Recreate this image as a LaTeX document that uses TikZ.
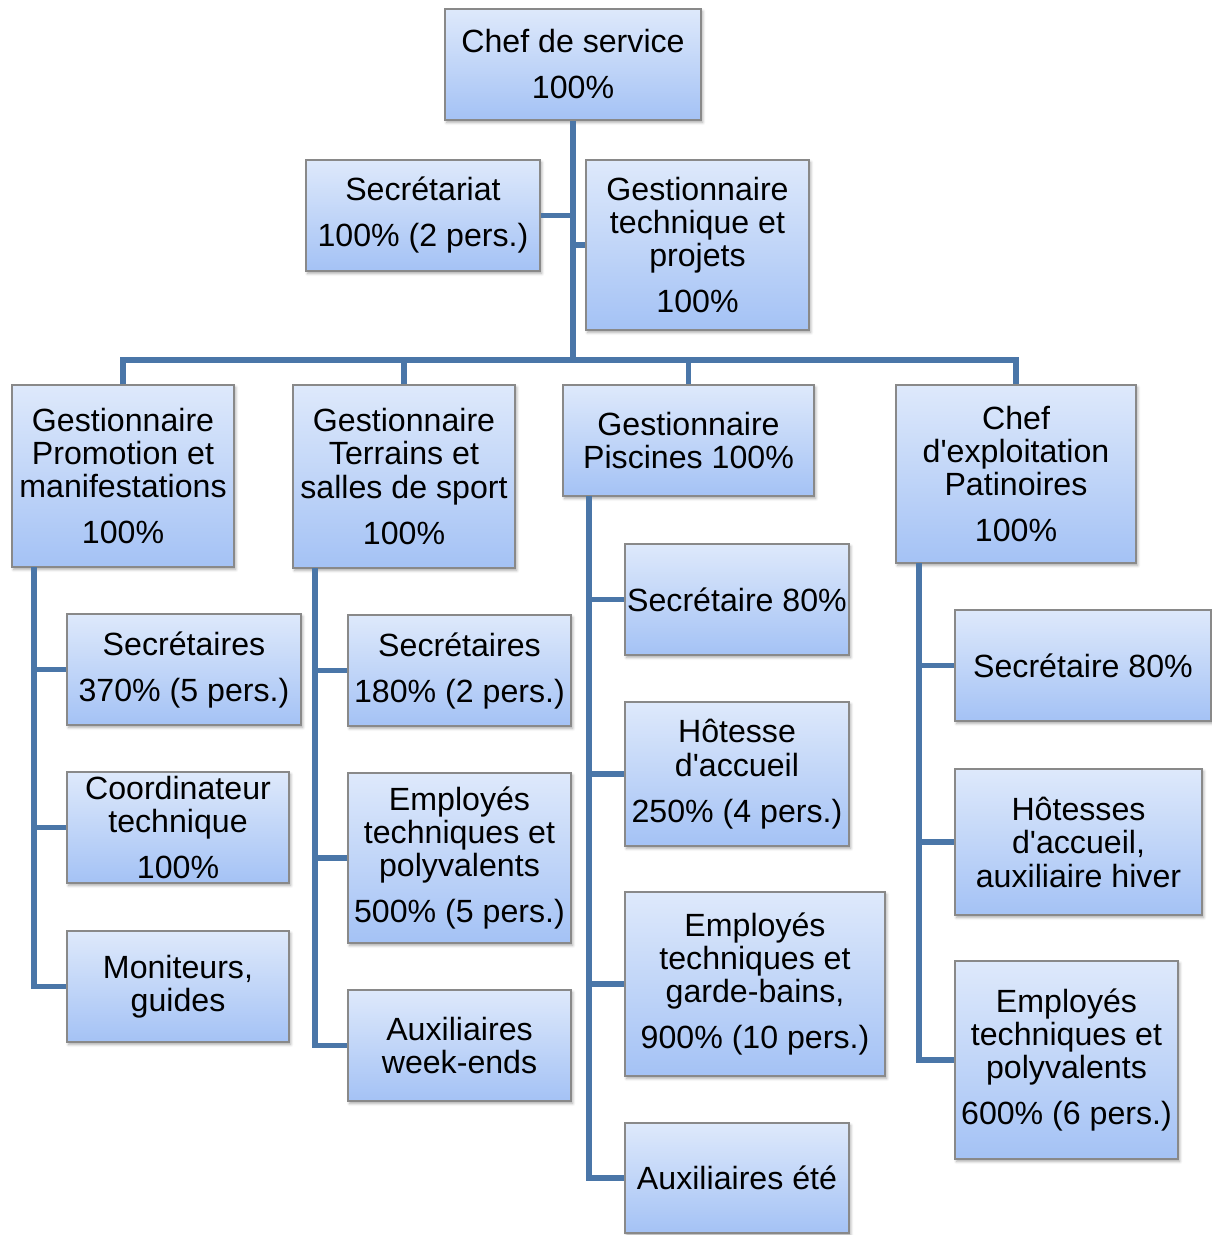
\documentclass[tikz,border=0pt]{standalone}
\usepackage{fontspec}
\setmainfont{Liberation Sans}
\usetikzlibrary{shadows.blur}
\definecolor{boxtop}{RGB}{222,233,251}
\definecolor{boxbot}{RGB}{164,194,245}
\definecolor{boxline}{RGB}{137,137,137}
\definecolor{linkblue}{RGB}{74,118,168}
\tikzset{box/.style={draw=boxline, line width=0.8pt, top color=boxtop, bottom color=boxbot,
    align=center, inner sep=0pt, font=\fontsize{24.1}{25.1}\selectfont,
    blur shadow={shadow xshift=1.2pt, shadow yshift=-1.8pt, shadow blur steps=4, shadow opacity=35}},
  sz/.style 2 args={minimum width=#1*0.75pt, minimum height=#2*0.75pt},
  link/.style={draw=linkblue, line width=3.8pt}}
\newcommand{\gap}{\\[9.4pt]}
\begin{document}
\begin{tikzpicture}[x=0.75pt, y=-0.75pt]
	\useasboundingbox (0,0) rectangle (1211,1235);
	% top of the chart
	\node[box, sz={256}{111}] (chef) at (573,64.5) {Chef de service\gap 100\%};
	\node[box, sz={234}{111}] (secr) at (423,215.5) {Secrétariat\gap 100\% (2 pers.)};
	\node[box, sz={223}{170}] (gtech) at (697.5,245) {Gestionnaire\\technique et\\projets\gap 100\%};
	% the four services
	\node[box, sz={222}{182}] (promo) at (123,476) {Gestionnaire\\Promotion et\\manifestations\gap 100\%};
	\node[box, sz={222}{183}] (terr) at (404,476.5) {Gestionnaire\\Terrains et\\salles de sport\gap 100\%};
	\node[box, sz={251}{111}] (pisc) at (688.5,440.5) {Gestionnaire\\Piscines 100\%};
	\node[box, sz={240}{178}] (patin) at (1016,474) {Chef\\d\textquotesingle exploitation\\Patinoires\gap 100\%};
	% promotion
	\node[box, sz={234}{111}] (promosec) at (184,669.5) {Secrétaires\gap 370\% (5 pers.)};
	\node[box, sz={222}{111}] (coord) at (178,827.5) {Coordinateur\\technique\gap 100\%};
	\node[box, sz={222}{111}] (monit) at (178,986.5) {Moniteurs,\\guides};
	% terrains
	\node[box, sz={223}{111}] (terrsec) at (459.5,670.5) {Secrétaires\gap 180\% (2 pers.)};
	\node[box, sz={223}{170}] (terremp) at (459.5,858) {Employés\\techniques et\\polyvalents\gap 500\% (5 pers.)};
	\node[box, sz={223}{111}] (terraux) at (459.5,1045.5) {Auxiliaires\\week-ends};
	% piscines
	\node[box, sz={224}{111}] (piscsec) at (737,599.5) {Secrétaire 80\%};
	\node[box, sz={224}{144}] (hotesse) at (737,774) {Hôtesse\\d\textquotesingle accueil\gap 250\% (4 pers.)};
	\node[box, sz={260}{184}] (piscemp) at (755,984) {Employés\\techniques et\\garde-bains,\gap 900\% (10 pers.)};
	\node[box, sz={224}{110}] (piscaux) at (737,1178) {Auxiliaires été};
	% patinoires
	\node[box, sz={256}{111}] (patinsec) at (1083,665.5) {Secrétaire 80\%};
	\node[box, sz={247}{146}] (patinhot) at (1078.5,842) {Hôtesses\\d\textquotesingle accueil,\\auxiliaire hiver};
	\node[box, sz={223}{198}] (patinemp) at (1066.5,1060) {Employés\\techniques et\\polyvalents\gap 600\% (6 pers.)};

	\coordinate (bus) at (573,360);
	\coordinate (promoT) at (34,567);
	\coordinate (terrT) at (315,568);
	\coordinate (piscT) at (589,496);
	\coordinate (patinT) at (919,563);

	\draw[link] (chef) -- (bus);
	\draw[link] (secr) -- (secr -| chef);
	\draw[link] (gtech) -- (gtech -| chef);
	\draw[link] (promo) |- (bus) -| (patin);
	\draw[link] (terr) -- (terr |- bus);
	\draw[link] (pisc) -- (pisc |- bus);

	\draw[link] (promoT) |- (monit);
	\draw[link] (promoT |- promosec) -- (promosec);
	\draw[link] (promoT |- coord) -- (coord);
	\draw[link] (terrT) |- (terraux);
	\draw[link] (terrT |- terrsec) -- (terrsec);
	\draw[link] (terrT |- terremp) -- (terremp);
	\draw[link] (piscT) |- (piscaux);
	\draw[link] (piscT |- piscsec) -- (piscsec);
	\draw[link] (piscT |- hotesse) -- (hotesse);
	\draw[link] (piscT |- piscemp) -- (piscemp);
	\draw[link] (patinT) |- (patinemp);
	\draw[link] (patinT |- patinsec) -- (patinsec);
	\draw[link] (patinT |- patinhot) -- (patinhot);
\end{tikzpicture}
\end{document}
